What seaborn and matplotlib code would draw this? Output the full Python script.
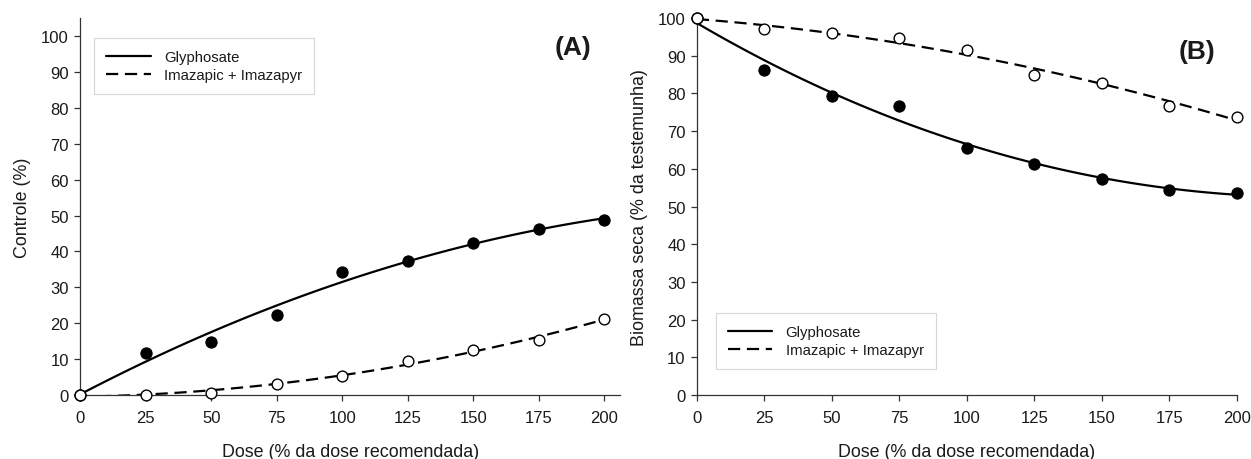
import numpy as np
import pandas as pd
import matplotlib
matplotlib.use("Agg")
import matplotlib.pyplot as plt
import seaborn as sns

# ==============================
# Data
# ==============================
dose = [0, 25, 50, 75, 100, 125, 150, 175, 200]

# (A) Controle (%)
ctrl_gly = [0, 11.8, 14.9, 22.4, 34.3, 37.4, 42.4, 46.2, 48.7]
ctrl_ima = [0, 0.0, 0.6, 3.1, 5.3, 9.5, 12.5, 15.4, 21.2]

# (B) Biomassa seca (% da testemunha)
bio_gly = [100, 86.3, 79.2, 76.6, 65.5, 61.2, 57.3, 54.5, 53.5]
bio_ima = [100, 97.0, 96.0, 94.6, 91.5, 84.8, 82.8, 76.8, 73.8]

herbicides = ["Glyphosate", "Imazapic + Imazapyr"]
yticks = list(range(0, 101, 10))
xticks = dose

sns.set_style("ticks")
plt.rcParams["font.family"] = ["Liberation Sans", "DejaVu Sans"]
plt.rcParams["axes.edgecolor"] = "#333333"
plt.rcParams["xtick.color"] = "#333333"
plt.rcParams["ytick.color"] = "#333333"
plt.rcParams["text.color"] = "#1a1a1a"
plt.rcParams["axes.labelcolor"] = "#1a1a1a"

fig = plt.figure(figsize=(12.51, 4.6), dpi=100)
axA = fig.add_axes([0.064, 0.139, 0.4317, 0.8196])
axB = fig.add_axes([0.557, 0.139, 0.4317, 0.8196])


def draw_panel(ax, gly, ima, order_gly, order_ima):
    df = pd.DataFrame({"dose": dose, "gly": gly, "ima": ima})
    # fitted curves
    sns.regplot(data=df, x="dose", y="gly", ax=ax, order=order_gly, ci=None,
                scatter=False, label=herbicides[0],
                line_kws={"color": "black", "lw": 1.6, "ls": "-"})
    sns.regplot(data=df, x="dose", y="ima", ax=ax, order=order_ima, ci=None,
                scatter=False, label=herbicides[1],
                line_kws={"color": "black", "lw": 1.6, "ls": (0, (5.5, 3))})
    # observed points
    sns.scatterplot(data=df, x="dose", y="gly", ax=ax, color="black",
                    edgecolor="black", s=65, linewidth=0.8, zorder=4, legend=False)
    sns.scatterplot(data=df, x="dose", y="ima", ax=ax, color="white",
                    edgecolor="black", s=60, linewidth=1.0, zorder=5, legend=False)


draw_panel(axA, ctrl_gly, ctrl_ima, 2, 2)
draw_panel(axB, bio_gly, bio_ima, 3, 2)

for ax in (axA, axB):
    ax.set_xticks(xticks)
    ax.set_yticks(yticks)
    ax.tick_params(labelsize=12, length=4, width=0.9, pad=4, labelcolor="#1a1a1a")
    ax.tick_params(axis="x", pad=7)
    sns.despine(ax=ax)
    for s in ("left", "bottom"):
        ax.spines[s].set_linewidth(0.9)
    ax.set_xlabel("Dose (% da dose recomendada)", fontsize=12.9, labelpad=13)

axA.set_xlim(0, 206)
axA.set_ylim(0, 105)
axB.set_xlim(0, 200)
axB.set_ylim(0, 100)
for ax in (axA, axB):
    for c in ax.collections:
        c.set_clip_on(False)

axA.set_ylabel("Controle (%)", fontsize=12.9, labelpad=7)
axB.set_ylabel("Biomassa seca (% da testemunha)", fontsize=12.9, labelpad=7)

legA = axA.legend(loc="upper left", bbox_to_anchor=(0.026, 0.947), borderaxespad=0,
                  fontsize=10.7, frameon=True, fancybox=False, handlelength=3.0,
                  borderpad=0.8, labelspacing=0.3, handletextpad=0.9)
legB = axB.legend(loc="upper left", bbox_to_anchor=(0.035, 0.2175), borderaxespad=0,
                  fontsize=10.7, frameon=True, fancybox=False, handlelength=3.0,
                  borderpad=0.8, labelspacing=0.3, handletextpad=0.9)
for leg in (legA, legB):
    leg.get_frame().set_edgecolor("#cccccc")
    leg.get_frame().set_linewidth(0.8)

axA.text(0.913, 0.923, "(A)", transform=axA.transAxes, ha="center", va="center",
         fontsize=19, fontweight="bold")
axB.text(0.926, 0.912, "(B)", transform=axB.transAxes, ha="center", va="center",
         fontsize=19, fontweight="bold")

fig.savefig("out.png", dpi=100)
